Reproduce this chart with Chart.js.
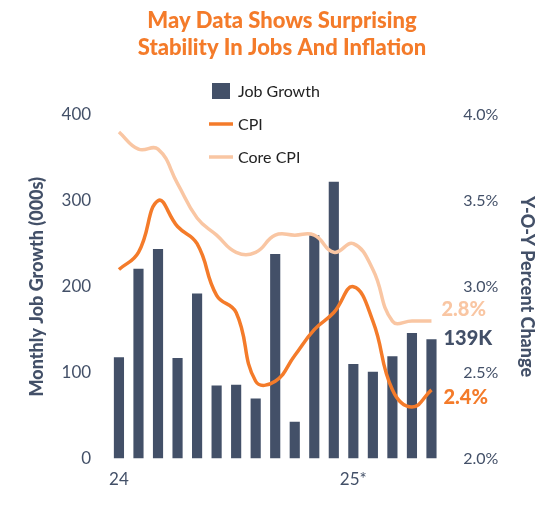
<!DOCTYPE html>
<html>
<head>
<meta charset="utf-8">
<script src="https://cdn.jsdelivr.net/npm/chart.js@4"></script>
<style>
  body { margin: 0; background: #fff; }
  #wrap { width: 548px; height: 517px; }
</style>
</head>
<body>
<div id="wrap"><canvas id="chart"></canvas></div>
<script>
const months = ['Jan 24','Feb 24','Mar 24','Apr 24','May 24','Jun 24','Jul 24','Aug 24','Sep 24','Oct 24','Nov 24','Dec 24','Jan 25','Feb 25','Mar 25','Apr 25','May 25'];
const jobGrowth = [118, 221, 244, 117, 192, 85, 86, 70, 238, 43, 260, 322, 110, 101, 119, 146, 139];
const cpi = [3.1, 3.2, 3.5, 3.35, 3.25, 2.95, 2.85, 2.45, 2.45, 2.6, 2.75, 2.85, 3.0, 2.8, 2.4, 2.3, 2.4];
const coreCpi = [3.9, 3.8, 3.8, 3.6, 3.4, 3.3, 3.2, 3.2, 3.3, 3.3, 3.3, 3.2, 3.25, 3.1, 2.8, 2.8, 2.8];

const navy = '#435068';
const orange = '#f47b2a';
const peach = '#f9c6a3';
const font = 'Lato, "Open Sans", sans-serif';

const endLabels = {
  id: 'endLabels',
  afterDatasetsDraw(chart) {
    const ctx = chart.ctx;
    const x = chart.scales.x, yl = chart.scales.y, yr = chart.scales.y1;
    const n = months.length - 1;
    const px = x.getPixelForValue(n);
    ctx.save();
    ctx.font = '900 20px ' + font;
    ctx.textBaseline = 'middle';
    ctx.fillStyle = peach;
    ctx.fillText('2.8%', px + 10, yr.getPixelForValue(coreCpi[n]) - 12);
    ctx.fillStyle = navy;
    ctx.fillText('139K', px + 12, yl.getPixelForValue(jobGrowth[n]) - 1);
    ctx.fillStyle = orange;
    ctx.fillText('2.4%', px + 12, yr.getPixelForValue(cpi[n]) + 8);
    // legend
    const items = [['Job Growth', 'bar', navy], ['CPI', 'line', orange], ['Core CPI', 'line', peach]];
    ctx.font = '16px ' + font;
    items.forEach((it, i) => {
      const ly = 91 + i * 33;
      ctx.fillStyle = it[2];
      ctx.strokeStyle = it[2];
      if (it[1] === 'bar') {
        ctx.fillRect(212, ly - 8, 18, 16);
      } else {
        ctx.lineWidth = 3.5;
        ctx.beginPath();
        ctx.moveTo(209, ly);
        ctx.lineTo(233, ly);
        ctx.stroke();
      }
      ctx.fillStyle = '#222';
      ctx.fillText(it[0], 238, ly + 1);
    });
    ctx.restore();
  }
};

new Chart(document.getElementById('chart'), {
  data: {
    labels: months,
    datasets: [
      { type: 'line', label: 'CPI', data: cpi, yAxisID: 'y1', borderColor: orange, borderWidth: 3.5, pointRadius: 0, tension: 0.45, order: 1 },
      { type: 'line', label: 'Core CPI', data: coreCpi, yAxisID: 'y1', borderColor: peach, borderWidth: 3.5, pointRadius: 0, tension: 0.45, order: 2 },
      { type: 'bar', label: 'Job Growth', data: jobGrowth, yAxisID: 'y', backgroundColor: navy, barPercentage: 0.52, categoryPercentage: 1, order: 3 }
    ]
  },
  options: {
    responsive: true,
    maintainAspectRatio: false,
    animation: false,
    layout: { padding: { left: 22, right: 6, top: 4, bottom: 24 } },
    plugins: {
      legend: { display: false },
      tooltip: { enabled: false },
      title: {
        display: true,
        text: ['May Data Shows Surprising', 'Stability In Jobs And Inflation'],
        color: orange,
        font: { family: font, size: 22, weight: '900' },
        padding: { top: 4, bottom: 54 },
        lineHeight: 1.25
      }
    },
    scales: {
      x: {
        offset: true,
        grid: { display: false },
        border: { display: false },
        ticks: {
          color: navy, font: { family: font, size: 17 }, maxRotation: 0, autoSkip: false,
          callback: (v, i) => i === 0 ? '24' : (i === 12 ? '25*' : '')
        }
      },
      y: {
        position: 'left', min: 0, max: 400,
        grid: { display: false }, border: { display: false },
        ticks: { stepSize: 100, color: navy, font: { family: font, size: 17 }, padding: 10 },
        title: { display: true, text: 'Monthly Job Growth (000s)', color: navy, font: { family: font, size: 18, weight: '900' } }
      },
      y1: {
        position: 'right', min: 2.0, max: 4.0,
        grid: { display: false }, border: { display: false },
        ticks: { stepSize: 0.5, color: navy, font: { family: font, size: 16 }, padding: 14, callback: v => v.toFixed(1) + '%' },
        title: { display: true, text: 'Y-O-Y Percent Change', color: navy, font: { family: font, size: 18, weight: '900' } }
      }
    }
  },
  plugins: [endLabels]
});
</script>
</body>
</html>
